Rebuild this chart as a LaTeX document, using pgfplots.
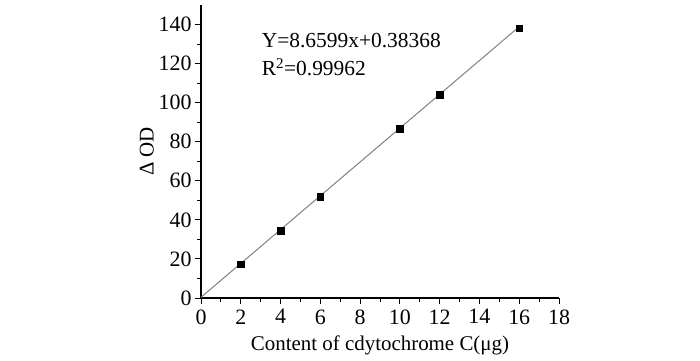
\documentclass[border=0pt]{standalone}
\usepackage{pgfplots}
\pgfplotsset{compat=1.18}
\usepackage{fontspec}
\setmainfont{Liberation Serif}
\begin{document}
\begin{tikzpicture}[x=1bp,y=1bp]
\path[use as bounding box] (-201,-62) rectangle (499,298);
\begin{axis}[
  at={(0,0)}, anchor=origin,
  scale only axis, width=358bp, height=293bp,
  xmin=0, xmax=18, ymin=0, ymax=150,
  axis lines*=left,
  axis line style={line width=1.2pt, black},
  xtick={0,2,...,18}, ytick={0,20,...,140},
  minor x tick num=1, minor y tick num=1,
  tick align=outside,
  major tick length=6bp, minor tick length=4bp,
  tick style={line width=1pt, black},
  tick label style={font=\fontsize{22}{26}\selectfont},
  xticklabel style={yshift=-2bp},
  /pgf/number format/assume math mode=true,
  xlabel={Content of cdytochrome C(μg)},
  ylabel={Δ OD},
  label style={font=\fontsize{21}{25}\selectfont},
  xlabel style={yshift=-5bp},
  ylabel style={yshift=-2bp},
  clip=false,
]
\addplot[gray, line width=1pt] coordinates {(0,0.38) (16,138.9)};
\addplot[only marks, mark=square*, mark size=3.3bp, black] coordinates {
(2,17.3) (4,34.6) (6,52.0) (10,86.6) (12,104.0) (16,138.2)};
\node[anchor=north west, align=left, font=\fontsize{21.5}{28}\selectfont, inner sep=0pt]
  at (axis cs:3.05,135.5) {Y=8.6599x+0.38368\\R\textsuperscript{2}=0.99962};
\end{axis}
\end{tikzpicture}
\end{document}
